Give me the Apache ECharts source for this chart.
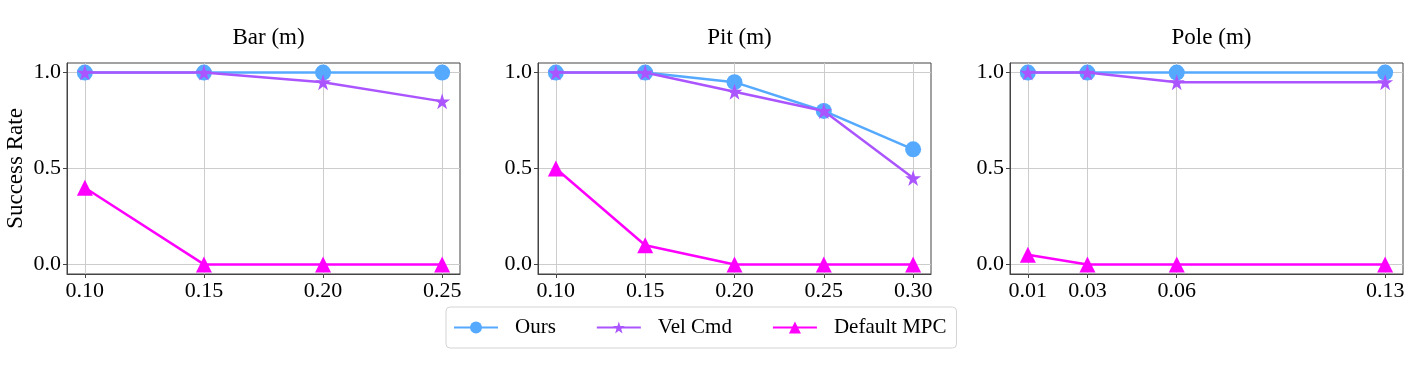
<!DOCTYPE html>
<html>
<head>
<meta charset="utf-8">
<script src="https://cdn.jsdelivr.net/npm/echarts@6/dist/echarts.min.js"></script>
<style>
  html, body { margin: 0; padding: 0; background: #fff; }
  #chart { width: 1412px; height: 366px; }
</style>
</head>
<body>
<div id="chart"></div>
<script>
// data
const panelTitles = ['Bar (m)', 'Pit (m)', 'Pole (m)'];
const barX = [0.10, 0.15, 0.20, 0.25];
const pitX = [0.10, 0.15, 0.20, 0.25, 0.30];
const poleX = [0.01, 0.03, 0.06, 0.13];

const barOurs = [1, 1, 1, 1];
const barVel = [1, 1, 0.95, 0.85];
const barMpc = [0.4, 0, 0, 0];

const pitOurs = [1, 1, 0.95, 0.8, 0.6];
const pitVel = [1, 1, 0.9, 0.8, 0.45];
const pitMpc = [0.5, 0.1, 0, 0, 0];

const poleOurs = [1, 1, 1, 1];
const poleVel = [1, 1, 0.95, 0.95];
const poleMpc = [0.05, 0, 0, 0];

const yTicks = [0, 0.5, 1.0];
const seriesNames = ['Ours', 'Vel Cmd', 'Default MPC'];

const FONT = '"Liberation Serif", "Times New Roman", serif';
const colors = ['#55aaff', '#aa55ff', '#ff00ff'];
const symbols = ['circle', 'path://M50,0 L61.8,35.4 L100,35.4 L69.1,57.3 L80.9,93.5 L50,71.5 L19.1,93.5 L30.9,57.3 L0,35.4 L38.2,35.4 Z', 'triangle'];
const symbolSizes = [16, 16, 16];

const panels = [
  { xs: barX, ys: [barOurs, barVel, barMpc], left: 67 },
  { xs: pitX, ys: [pitOurs, pitVel, pitMpc], left: 538 },
  { xs: poleX, ys: [poleOurs, poleVel, poleMpc], left: 1010 }
];
const plotW = 393, plotTop = 63, plotH = 211;

function zip(xs, ys) { return xs.map((x, i) => [x, ys[i]]); }

let myChart = echarts.init(document.getElementById('chart'));

const option = {
  animation: false,
  textStyle: { fontFamily: FONT },
  title: panels.map((p, i) => ({
    text: panelTitles[i],
    left: p.left + plotW / 2,
    textAlign: 'center',
    top: 21,
    textStyle: { fontFamily: FONT, fontWeight: 'normal', fontSize: 23, color: '#000' }
  })),
  legend: {
    data: seriesNames,
    top: 307,
    left: 446,
    itemWidth: 44,
    itemHeight: 15,
    itemGap: 40,
    padding: [10, 10, 10, 7],
    borderColor: '#d4d4d4',
    borderWidth: 1,
    borderRadius: 4,
    textStyle: { fontFamily: FONT, fontSize: 21, color: '#000', padding: [0, 0, 0, 12] }
  },
  grid: panels.map(p => ({
    left: p.left, top: plotTop, width: plotW, height: plotH,
    show: true, borderColor: '#444', borderWidth: 1, backgroundColor: 'transparent'
  })),
  xAxis: panels.map((p, i) => {
    const lo = p.xs[0], hi = p.xs[p.xs.length - 1], pad = (hi - lo) * 0.05;
    return {
      type: 'value', gridIndex: i, min: lo - pad, max: hi + pad,
      axisLine: { show: true, onZero: false, lineStyle: { color: '#444' } },
      axisTick: { show: true, customValues: p.xs, length: 4, lineStyle: { color: '#444' } },
      axisLabel: {
        customValues: p.xs, formatter: v => v.toFixed(2),
        fontFamily: FONT, fontSize: 22, color: '#000', margin: 6
      },
      splitLine: { show: true, lineStyle: { color: '#cccccc', width: 1 } }
    };
  }),
  yAxis: panels.map((p, i) => ({
    type: 'value', gridIndex: i, min: -0.05, max: 1.05,
    name: i === 0 ? 'Success Rate' : '',
    nameLocation: 'middle', nameGap: 40, nameRotate: 90,
    nameTextStyle: { fontFamily: FONT, fontSize: 23, color: '#000' },
    axisLine: { show: true, lineStyle: { color: '#444' } },
    axisTick: { show: true, customValues: yTicks, length: 4, lineStyle: { color: '#444' } },
    axisLabel: {
      customValues: yTicks, formatter: v => v.toFixed(1),
      fontFamily: FONT, fontSize: 22, color: '#000', margin: 6
    },
    splitLine: { show: true, lineStyle: { color: '#cccccc', width: 1 } }
  })),
  series: []
};

panels.forEach((p, i) => {
  p.ys.forEach((ys, k) => {
    option.series.push({
      name: seriesNames[k],
      type: 'line',
      xAxisIndex: i, yAxisIndex: i,
      data: zip(p.xs, ys),
      symbol: symbols[k],
      symbolSize: symbolSizes[k],
      showAllSymbol: true,
      z: 2 + k,
      lineStyle: { color: colors[k], width: 2.5 },
      itemStyle: { color: colors[k] }
    });
  });
});

myChart.setOption(option);
window.onresize = function () { myChart.resize(); };
</script>
</body>
</html>
